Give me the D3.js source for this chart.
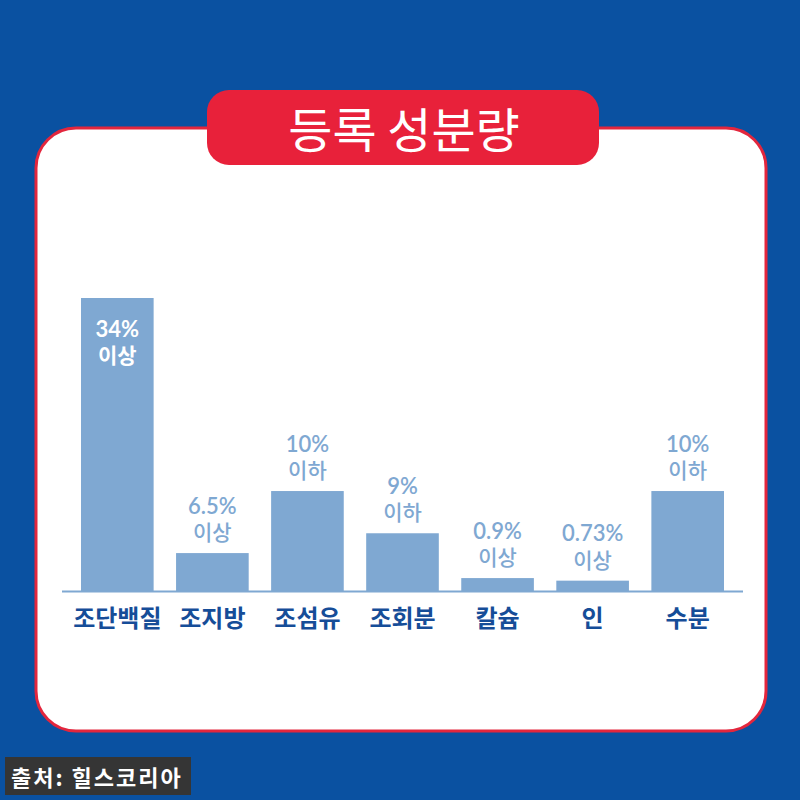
<!DOCTYPE html>
<html><head><meta charset="utf-8">
<script src="https://cdn.jsdelivr.net/npm/d3@7"></script>
<style>html,body{margin:0;padding:0;background:#0a51a1;}svg{display:block;}</style>
</head><body>
<script>
const categories = ["조단백질", "조지방", "조섬유", "조회분", "칼슘", "인", "수분"];
// drawn bar lengths (infographic, not to scale with the labels)
const barLengths = [34, 4.4, 11.6, 6.7, 1.5, 1.2, 11.6];
const valueLabels = ["34%", "6.5%", "10%", "9%", "0.9%", "0.73%", "10%"];
const qualifiers = ["이상", "이상", "이하", "이하", "이상", "이상", "이하"];
const title = "등록 성분량";
const source = "출처: 힐스코리아";

const W = 800, H = 800;
const svg = d3.select("body").append("svg").attr("width", W).attr("height", H);
svg.append("rect").attr("width", W).attr("height", H).attr("fill", "#0a51a1");

// panel
svg.append("rect").attr("x", 36).attr("y", 128).attr("width", 730).attr("height", 603)
  .attr("rx", 40).attr("fill", "#fff").attr("stroke", "#e3263d").attr("stroke-width", 3);
// title tab
svg.append("rect").attr("x", 207).attr("y", 90).attr("width", 392).attr("height", 75)
  .attr("rx", 22).attr("fill", "#e8213a");
svg.append("text").attr("x", 404).attr("y", 127).attr("text-anchor", "middle")
  .attr("dominant-baseline", "central")
  .attr("font-family", "'Noto Sans CJK KR', sans-serif").attr("font-size", 48)
  .attr("fill", "#fff").text(title);

const baseY = 591;
const x = d3.scaleBand().domain(categories).range([81, 724]).paddingInner(0.236).paddingOuter(0);
const y = d3.scaleLinear().domain([0, 34]).range([baseY, 298]);

const barColor = "#7fa8d2";
const g = svg.append("g");
g.selectAll("rect.bar").data(categories).join("rect").attr("class", "bar")
  .attr("x", d => x(d)).attr("width", x.bandwidth())
  .attr("y", (d, i) => y(barLengths[i])).attr("height", (d, i) => baseY - y(barLengths[i]))
  .attr("fill", barColor);

// baseline
svg.append("line").attr("x1", 62).attr("x2", 743).attr("y1", baseY + 0.5).attr("y2", baseY + 0.5)
  .attr("stroke", barColor).attr("stroke-width", 2);

// value labels
categories.forEach((c, i) => {
  const cx = x(c) + x.bandwidth() / 2;
  const top = y(barLengths[i]);
  const inside = i === 0;
  const y2 = inside ? top + 56 : top - 22;
  const y1 = y2 - 26;
  const col = inside ? "#fff" : barColor;
  svg.append("text").attr("x", cx).attr("y", y1).attr("text-anchor", "middle")
    .attr("dominant-baseline", "central")
    .attr("font-family", "Lato, sans-serif").attr("font-weight", inside ? 700 : 600)
    .attr("font-size", 22).attr("fill", col).text(valueLabels[i]);
  svg.append("text").attr("x", cx).attr("y", y2).attr("text-anchor", "middle")
    .attr("dominant-baseline", "central")
    .attr("font-family", "'Noto Sans CJK KR', sans-serif").attr("font-weight", inside ? 700 : 500)
    .attr("font-size", 21).attr("fill", col).text(qualifiers[i]);
});

// category axis labels
const axis = d3.axisBottom(x).tickSize(0).tickPadding(0);
const ax = svg.append("g").attr("transform", `translate(0,${baseY})`).call(axis);
ax.select(".domain").remove();
ax.selectAll("text").attr("dy", null).attr("y", 25).attr("dominant-baseline", "central")
  .attr("font-family", "'Noto Sans CJK KR', sans-serif").attr("font-weight", 700)
  .attr("font-size", 24).attr("fill", "#164d98");

// source box
svg.append("rect").attr("x", 5).attr("y", 757).attr("width", 186).attr("height", 38).attr("fill", "#353535");
svg.append("text").attr("x", 11).attr("y", 776).attr("dominant-baseline", "central")
  .attr("font-family", "'Noto Sans CJK KR', sans-serif").attr("font-weight", 700)
  .attr("font-size", 22).attr("letter-spacing", 2).attr("fill", "#fff").text(source);
</script>
</body></html>
